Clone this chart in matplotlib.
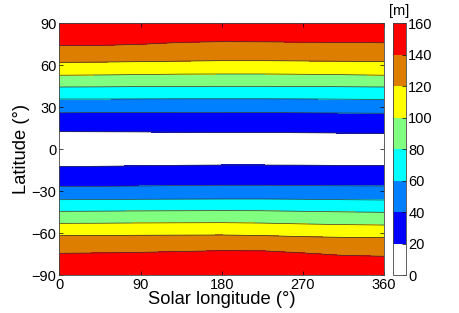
import numpy as np
import matplotlib
matplotlib.use('Agg')
import matplotlib.pyplot as plt
from matplotlib.colors import ListedColormap, BoundaryNorm

plt.rcParams['font.family'] = ['Liberation Sans', 'DejaVu Sans']

# ─────────────────────────────────────────────────────────────
# Data: latitude where each level is crossed, per solar longitude
# ─────────────────────────────────────────────────────────────
lons = [0, 45, 90, 135, 180, 225, 270, 315, 360]

n140 = [74.0, 74.2, 75.0, 76.4, 76.9, 76.8, 76.5, 76.3, 76.1]
n120 = [62.1, 62.3, 62.6, 63.0, 63.3, 63.3, 63.1, 62.9, 62.6]
n100 = [52.9, 53.1, 53.4, 53.7, 53.8, 53.8, 53.6, 53.3, 52.9]
n80 = [44.5, 44.6, 44.8, 44.9, 45.0, 45.0, 44.9, 44.7, 44.5]
n60 = [35.9, 35.9, 36.0, 36.1, 36.1, 36.1, 36.0, 35.8, 35.6]
n40 = [26.1, 26.2, 26.3, 26.4, 26.4, 26.3, 26.1, 25.9, 25.7]
n20 = [12.6, 12.5, 12.4, 12.2, 12.1, 12.0, 11.8, 11.6, 11.4]
s20 = [-12.4, -12.1, -11.8, -11.4, -11.2, -11.2, -11.3, -11.5, -11.6]
s40 = [-26.7, -26.5, -26.2, -25.9, -25.7, -25.7, -25.9, -26.1, -26.2]
s60 = [-36.0, -35.9, -35.7, -35.6, -35.5, -35.5, -35.7, -36.0, -36.2]
s80 = [-44.3, -44.2, -44.0, -43.9, -43.8, -43.9, -44.3, -44.7, -45.0]
s100 = [-52.9, -52.8, -52.6, -52.5, -52.4, -52.7, -53.3, -53.8, -54.1]
s120 = [-61.7, -61.6, -61.4, -61.3, -61.2, -61.6, -62.4, -62.9, -63.1]
s140 = [-74.3, -74.0, -73.6, -73.0, -72.4, -72.5, -74.0, -75.8, -76.4]

pole_s = [-90] * len(lons)
equator = [0] * len(lons)
pole_n = [90] * len(lons)

# value (m) attached to each row of latitudes above
row_values = [150, 140, 120, 100, 80, 60, 40, 20, 10,
              20, 40, 60, 80, 100, 120, 140, 150]

levels = [0, 20, 40, 60, 80, 100, 120, 140, 160]
colors = ['#FFFFFF', '#0000FF', '#0080FF', '#00FFFF', '#80FF80',
          '#FFFF00', '#DE7E00', '#FF0000']

# ─────────────────────────────────────────────────────────────
# Grid
# ─────────────────────────────────────────────────────────────
Y = np.array([pole_s, s140, s120, s100, s80, s60, s40, s20, equator,
              n20, n40, n60, n80, n100, n120, n140, pole_n])
X = np.tile(np.array(lons, dtype=float), (Y.shape[0], 1))
Z = np.tile(np.array(row_values, dtype=float)[:, None], (1, len(lons)))

# levels nudged a hair so they never sit exactly on grid values
draw_levels = np.array(levels, dtype=float)
draw_levels[1:-1] += 0.01

cmap = ListedColormap(colors)
norm = BoundaryNorm(draw_levels, cmap.N)

fig = plt.figure(figsize=(4.6, 3.13), dpi=100)
ax = fig.add_axes([0.129, 0.1205, 0.706, 0.805])
cax = fig.add_axes([0.854, 0.1205, 0.0276, 0.805])

ax.contourf(X, Y, Z, levels=draw_levels, cmap=cmap, norm=norm)
ax.contour(X, Y, Z, levels=draw_levels[1:-1], colors='#333333', linewidths=0.5)

ax.set_xlim(0, 360)
ax.set_ylim(-90, 90)
ax.set_xticks([0, 90, 180, 270, 360])
ax.set_yticks([-90, -60, -30, 0, 30, 60, 90])
ax.tick_params(direction='in', top=True, right=True, labelsize=10.5,
               length=3, width=0.5, pad=2)
for sp in ax.spines.values():
    sp.set_linewidth(0.6)
    sp.set_color('#444444')
ax.set_xlabel('Solar longitude (°)', fontsize=13.2, labelpad=-1)
ax.set_ylabel('Latitude (°)', fontsize=13.2, labelpad=1)

sm = plt.cm.ScalarMappable(cmap=cmap, norm=BoundaryNorm(levels, cmap.N))
cb = fig.colorbar(sm, cax=cax, ticks=levels)
cb.ax.tick_params(direction='in', labelsize=10.5, length=3, width=0.5, pad=2)
cb.outline.set_linewidth(0.6)
cb.outline.set_edgecolor('#444444')
cax.text(0.5, 1.02, '[m]', transform=cax.transAxes, ha='center', va='bottom',
         fontsize=10.5)

plt.savefig('out.png', dpi=100)
